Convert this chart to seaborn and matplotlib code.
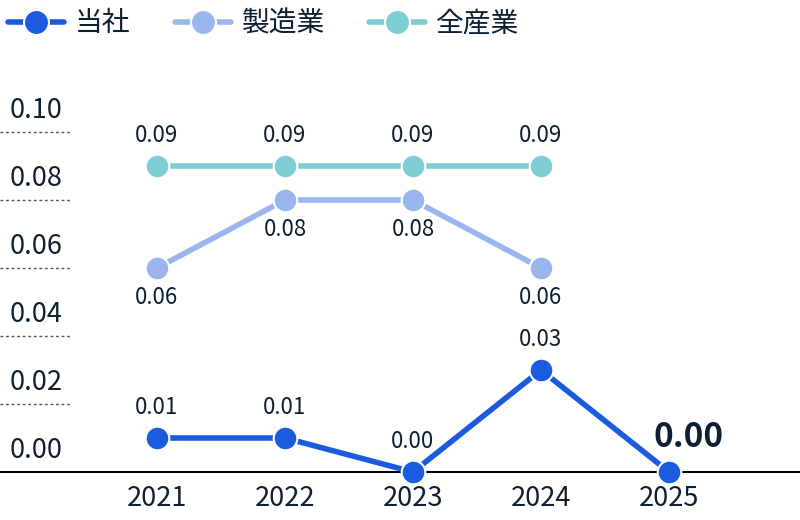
import pandas as pd
import numpy as np
import seaborn as sns
import matplotlib.pyplot as plt
from matplotlib.lines import Line2D
import matplotlib.transforms as mtransforms

# data
years = [2021, 2022, 2023, 2024, 2025]
company = [0.01, 0.01, 0.00, 0.03, 0.00]
manufacturing = [0.06, 0.08, 0.08, 0.06, None]
all_industry = [0.09, 0.09, 0.09, 0.09, None]
series_names = ["当社", "製造業", "全産業"]
yticks = [0.00, 0.02, 0.04, 0.06, 0.08, 0.10]

colors = {"当社": "#1a5be0", "製造業": "#9bb6ef", "全産業": "#7ecfd3"}
text_color = "#0d1f30"

sns.set_theme(style="white")
plt.rcParams["font.family"] = ["Noto Sans CJK JP", "DejaVu Sans"]

rows = []
for name, vals in zip(series_names, [company, manufacturing, all_industry]):
    for y, v in zip(years, vals):
        if v is not None:
            rows.append({"year": y, "value": v, "series": name})
df = pd.DataFrame(rows)

fig = plt.figure(figsize=(8, 5.2), dpi=100)
ax = fig.add_axes([0, 48 / 520, 1, 372 / 520])

# draw back-to-front so 当社 is on top
for name in ["全産業", "製造業", "当社"]:
    sub = df[df["series"] == name]
    sns.lineplot(data=sub, x="year", y="value", color=colors[name], marker="o",
                 markersize=17, markeredgecolor="white", markeredgewidth=1.5,
                 linewidth=4, clip_on=False, ax=ax, legend=False, zorder=3)

ax.set_xlim(2021 - 157 / 128, 2021 + 643 / 128)
ax.set_ylim(0, 0.10 + 32 / 3400)

# value labels
for y, v in zip(years, company):
    if y == years[-1]:
        ax.annotate(f"{v:.2f}", (y, v), xytext=(14, 25), textcoords="offset points",
                    ha="center", va="center", fontsize=24, fontweight="bold", color=text_color)
    else:
        ax.annotate(f"{v:.2f}", (y, v), xytext=(0, 22), textcoords="offset points",
                    ha="center", va="center", fontsize=16, color=text_color)
for y, v in zip(years, manufacturing):
    if v is not None:
        ax.annotate(f"{v:.2f}", (y, v), xytext=(0, -21), textcoords="offset points",
                    ha="center", va="center", fontsize=16, color=text_color)
for y, v in zip(years, all_industry):
    if v is not None:
        ax.annotate(f"{v:.2f}", (y, v), xytext=(0, 22), textcoords="offset points",
                    ha="center", va="center", fontsize=16, color=text_color)

# y labels with dotted guide lines
trans = mtransforms.blended_transform_factory(ax.transAxes, ax.transData)
for t in yticks:
    if t > 0:
        ax.plot([0, 0.09], [t, t], transform=trans, color="#555555", linestyle=(0, (2, 2)),
                linewidth=1, clip_on=False)
    ax.annotate(f"{t:.2f}", (0.012, t), xycoords=trans, xytext=(0, 6), textcoords="offset points",
                ha="left", va="bottom", fontsize=19.5, color=text_color)

ax.set_yticks([])
ax.set_xticks(years)
ax.set_xticklabels([str(y) for y in years], fontsize=19.5, color=text_color)
ax.tick_params(axis="x", length=0, pad=9)
ax.set_xlabel("")
ax.set_ylabel("")
for s in ["top", "right", "left"]:
    ax.spines[s].set_visible(False)
ax.spines["bottom"].set_color("black")
ax.spines["bottom"].set_linewidth(1.5)
ax.spines["bottom"].set_zorder(1)

handles = [Line2D([], [], color=colors[n], marker="o", markersize=18, markeredgecolor="white",
                  markeredgewidth=1.5, linewidth=4) for n in series_names]
leg = fig.legend(handles, series_names, loc="upper left", bbox_to_anchor=(0, 1), ncol=3,
                 frameon=False, fontsize=20, handlelength=2.0, handletextpad=0.4,
                 columnspacing=1.6, borderaxespad=0.05, borderpad=0.25)
for t in leg.get_texts():
    t.set_color(text_color)

fig.savefig("out.png", dpi=100)
